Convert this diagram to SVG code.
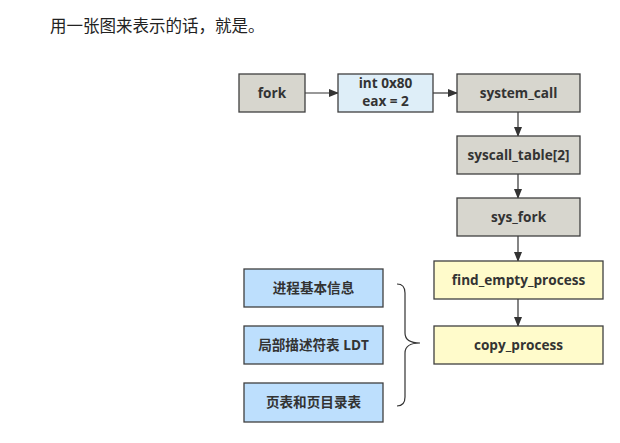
<svg xmlns="http://www.w3.org/2000/svg" width="620" height="443" viewBox="0 0 620 443">
<style>
.box{stroke:#3f3f3f;stroke-width:1.3}
.g{fill:#d7d6ce}
.lb{fill:#deeef8}
.y{fill:#fffbcb}
.b{fill:#bddffd}
.t{font-family:"Open Sans","Noto Sans CJK SC",sans-serif;font-weight:bold;font-size:13.6px;fill:#333;text-anchor:middle}
.c{stroke:#333;stroke-width:1.2;fill:none}
</style>
<defs>
<marker id="ah" markerWidth="10" markerHeight="8" refX="9" refY="4" orient="auto" markerUnits="userSpaceOnUse">
<path d="M0,0 L10,4 L0,8 Z" fill="#333"/>
</marker>
</defs>
<rect width="620" height="443" fill="#fff"/>
<text x="50" y="32" font-family="'Noto Sans CJK SC',sans-serif" font-size="16.5" fill="#222">用一张图来表示的话，就是。</text>
<g id="connectors">
<line class="c" x1="305" y1="93" x2="338" y2="93" marker-end="url(#ah)"/>
<line class="c" x1="433" y1="93" x2="457" y2="93" marker-end="url(#ah)"/>
<line class="c" x1="518" y1="112" x2="518" y2="136" marker-end="url(#ah)"/>
<line class="c" x1="518" y1="174" x2="518" y2="198" marker-end="url(#ah)"/>
<line class="c" x1="518" y1="236" x2="518" y2="261" marker-end="url(#ah)"/>
<line class="c" x1="518" y1="299" x2="518" y2="326" marker-end="url(#ah)"/>
<path class="c" stroke-width="1.6" d="M397,284 Q405,284 405,293 L405,333 Q405,343 420,343 Q405,343 405,353 L405,397 Q405,406 397,406"/>
</g>
<g id="fork"><rect class="box g" x="239" y="74" width="66" height="38"/><text class="t" x="272" y="98">fork</text></g>
<g id="int80"><rect class="box lb" x="338" y="74" width="95" height="38"/><text class="t" x="385.5" y="87.5">int 0x80</text><text class="t" x="385.5" y="106">eax = 2</text></g>
<g id="system_call"><rect class="box g" x="457" y="74" width="123" height="38"/><text class="t" x="518.5" y="98">system_call</text></g>
<g id="syscall_table"><rect class="box g" x="457" y="136" width="123" height="38"/><text class="t" x="518.5" y="160">syscall_table[2]</text></g>
<g id="sys_fork"><rect class="box g" x="457" y="198" width="123" height="38"/><text class="t" x="518.5" y="222">sys_fork</text></g>
<g id="find_empty_process"><rect class="box y" x="434" y="261" width="169" height="38"/><text class="t" x="518.5" y="285">find_empty_process</text></g>
<g id="copy_process"><rect class="box y" x="434" y="326" width="169" height="38"/><text class="t" x="518.5" y="350">copy_process</text></g>
<g id="info"><rect class="box b" x="244" y="269" width="139" height="38"/><text class="t" x="313.5" y="293">进程基本信息</text></g>
<g id="ldt"><rect class="box b" x="244" y="326" width="139" height="38"/><text class="t" x="313.5" y="350">局部描述符表 LDT</text></g>
<g id="pagetable"><rect class="box b" x="244" y="383" width="139" height="39"/><text class="t" x="313.5" y="407">页表和页目录表</text></g>
</svg>
